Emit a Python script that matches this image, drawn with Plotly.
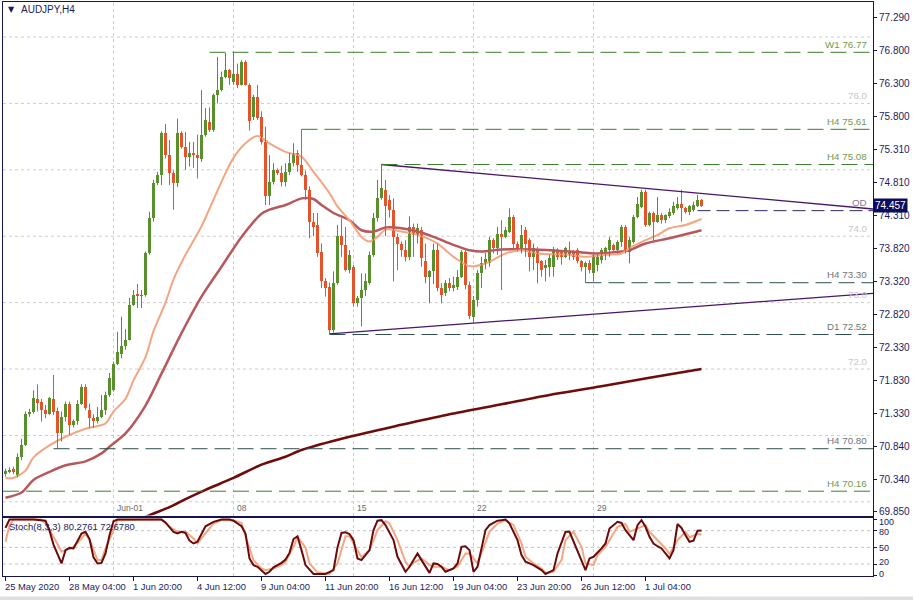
import plotly.graph_objects as go
import numpy as np

# ------------------------------------------------------------------ data
# H4 candles, bar 0 = 25 May 2020 12:00 (one bar = 4 hours, weekends skipped)
opens = [70.42,70.46,70.48,70.40,70.68,70.86,71.32,71.36,71.55,71.51,
         71.38,71.33,71.55,71.37,71.03,71.28,71.48,71.16,71.21,71.47,
         71.73,71.38,71.27,71.22,71.28,71.38,71.61,71.68,72.08,72.22,
         72.34,72.44,72.97,73.12,73.10,73.11,73.74,74.27,74.80,74.92,
         75.56,75.22,74.95,74.80,75.55,75.35,75.20,75.26,75.23,75.17,
         75.52,75.72,75.60,76.13,76.20,76.40,76.50,76.33,76.45,76.28,
         76.63,76.28,75.80,76.10,75.80,75.42,74.60,74.82,75.00,74.95,
         74.82,74.97,75.10,75.25,75.07,74.92,74.70,74.22,74.17,73.77,
         73.32,73.24,72.59,73.29,74.00,73.87,73.49,73.54,72.99,73.07,
         73.19,73.29,73.72,74.27,74.57,74.70,74.55,74.40,73.99,73.89,
         73.79,73.69,74.14,74.02,74.10,73.63,73.39,73.47,73.79,73.22,
         73.14,73.29,73.22,73.24,73.39,73.77,73.27,72.78,73.04,73.44,
         73.59,73.60,73.94,73.82,74.04,73.99,74.07,74.29,73.89,73.79,
         74.09,73.95,73.69,73.79,73.62,73.52,73.54,73.54,73.79,73.77,
         73.69,73.72,73.77,73.79,73.62,73.54,73.59,73.44,73.57,73.64,
         73.72,73.79,73.87,73.79,73.92,74.14,73.77,73.92,74.29,74.44,
         74.67,74.17,74.35,74.22,74.32,74.25,74.30,74.35,74.42,74.49,
         74.42,74.37,74.39,74.45,74.54]
highs = [70.50,70.52,70.53,70.73,70.95,71.36,71.40,71.68,71.77,71.55,
         71.46,71.58,71.91,71.42,71.36,71.51,71.51,71.24,71.53,71.77,
         71.77,71.48,71.32,71.43,71.61,71.66,71.94,72.11,72.56,72.79,
         72.60,73.07,73.19,73.28,73.19,73.77,74.37,74.85,74.97,75.58,
         75.69,75.45,74.99,75.77,75.58,75.57,75.42,75.42,75.53,76.20,
         75.93,75.94,76.15,76.70,76.48,76.76,76.52,76.78,76.60,76.65,
         76.65,76.30,76.13,76.28,75.88,75.65,75.22,75.10,75.02,75.06,
         75.10,75.25,75.40,75.30,75.61,74.99,74.75,74.35,74.35,73.89,
         73.37,73.30,73.47,74.17,74.27,74.14,73.79,73.57,73.10,73.44,
         73.44,73.77,74.35,74.85,75.08,74.85,74.62,74.57,74.04,73.92,
         73.94,74.30,74.19,74.19,74.14,73.89,73.49,73.89,73.89,73.29,
         73.34,73.37,73.39,73.49,73.79,73.82,73.32,73.10,73.49,73.69,
         73.75,73.99,73.97,74.14,74.24,74.14,74.42,74.32,73.92,74.17,
         74.14,73.97,73.89,73.84,73.64,73.64,73.72,73.84,73.82,73.79,
         73.84,73.92,73.79,73.82,73.64,73.62,73.64,73.74,73.74,73.82,
         73.84,73.99,73.89,73.94,74.17,74.17,73.99,74.32,74.59,74.70,
         74.70,74.37,74.37,74.59,74.35,74.33,74.42,74.52,74.59,74.70,
         74.44,74.47,74.52,74.62,74.56]
lows = [70.38,70.43,70.42,70.37,70.63,70.84,71.28,71.33,71.36,71.21,
        71.26,71.31,71.31,70.80,70.91,71.21,71.01,71.12,71.16,71.46,
        71.38,71.11,71.11,71.18,71.26,71.31,71.58,71.66,72.06,72.16,
        72.29,72.43,72.95,72.92,72.92,73.09,73.72,74.22,74.77,74.77,
        75.17,74.77,74.40,74.74,75.32,75.00,75.05,75.03,74.87,75.12,
        75.50,75.57,75.57,76.00,76.18,76.38,76.28,76.28,76.23,76.27,
        76.27,75.59,75.75,75.75,75.38,74.47,74.47,74.78,74.92,74.75,
        74.75,74.92,75.05,74.97,74.90,74.55,73.97,74.00,73.69,73.22,
        73.09,72.53,72.55,73.27,73.69,73.47,73.44,72.94,72.94,72.64,
        73.10,73.27,73.69,74.22,74.55,74.00,74.28,73.32,73.49,73.69,
        73.62,73.64,73.69,73.89,73.54,73.29,72.99,73.28,73.17,72.99,
        73.10,73.17,73.17,73.19,73.37,73.20,72.75,72.70,72.94,73.22,
        73.50,73.54,73.74,73.72,73.19,73.97,74.05,73.82,73.77,73.74,
        73.69,73.47,73.49,73.29,73.39,73.32,73.39,73.39,73.64,73.57,
        73.67,73.64,73.64,73.59,73.47,73.30,73.44,73.32,73.47,73.59,
        73.64,73.69,73.77,73.74,73.84,73.74,73.59,73.89,74.27,74.42,
        74.14,74.15,73.92,74.20,74.19,74.20,74.27,74.32,74.40,74.22,
        74.34,74.32,74.37,74.44,74.44]
closes = [70.47,70.48,70.45,70.68,70.86,71.33,71.36,71.56,71.49,71.38,
          71.33,71.56,71.36,71.03,71.28,71.47,71.16,71.21,71.47,71.73,
          71.41,71.26,71.22,71.28,71.38,71.61,71.86,72.08,72.26,72.34,
          72.44,72.97,73.12,73.10,73.11,73.74,74.27,74.80,74.92,75.56,
          75.22,74.95,74.80,75.55,75.35,75.20,75.25,75.23,75.18,75.52,
          75.75,75.60,76.13,76.20,76.40,76.50,76.38,76.45,76.28,76.63,
          76.28,75.74,76.10,75.78,75.42,74.60,74.82,75.00,74.95,74.82,
          74.97,75.10,75.25,75.07,74.92,74.70,74.22,74.14,73.74,73.32,
          73.22,72.59,73.29,74.00,73.87,73.49,73.72,72.99,73.07,73.19,
          73.32,73.72,74.27,74.57,74.72,74.45,74.40,73.99,73.89,73.79,
          73.69,74.14,74.02,74.12,73.67,73.39,73.47,73.79,73.22,73.12,
          73.29,73.22,73.27,73.39,73.77,73.27,72.80,73.04,73.44,73.59,
          73.65,73.94,73.82,74.04,73.99,74.09,74.29,73.89,73.79,74.02,
          73.89,73.69,73.82,73.59,73.49,73.57,73.67,73.79,73.69,73.69,
          73.82,73.77,73.69,73.62,73.54,73.59,73.49,73.72,73.69,73.79,
          73.82,73.94,73.79,73.92,74.14,73.77,73.94,74.29,74.49,74.67,
          74.17,74.35,74.22,74.32,74.25,74.32,74.37,74.45,74.49,74.42,
          74.37,74.45,74.47,74.54,74.457]

# moving averages: (bar, price)
ma_fast_points = [(0,70.36),(2,70.36),(5,70.47),(7,70.67),(11,70.85),(15,70.98),(20,71.10),
                  (22,71.13),(25,71.18),(27,71.36),(30,71.55),(32,71.83),(35,72.18),(37,72.57),
                  (40,73.00),(42,73.35),(45,73.72),(49,74.15),(52,74.55),(55,74.95),(57,75.18),
                  (60,75.40),(63,75.51),(66,75.40),(70,75.27),(74,75.20),(77,74.97),(81,74.65),
                  (83,74.45),(86,74.24),(89,73.99),(91,73.92),(93,73.99),(95,74.10),(99,74.07),
                  (103,74.02),(108,73.89),(112,73.69),(116,73.55),(120,73.59),(125,73.74),
                  (129,73.79),(133,73.74),(141,73.72),(145,73.69),(150,73.72),(154,73.74),
                  (156,73.82),(160,73.94),(163,74.02),(166,74.12),(170,74.17),(174,74.26)]
ma_mid_points = [(0,70.06),(4,70.14),(7,70.33),(11,70.45),(15,70.55),(20,70.61),(24,70.73),
                 (26,70.83),(30,71.03),(35,71.45),(39,71.93),(44,72.54),(49,73.09),(54,73.54),
                 (59,73.99),(64,74.34),(66,74.40),(70,74.47),(74,74.57),(77,74.56),(79,74.47),
                 (82,74.35),(86,74.24),(89,74.09),(92,74.07),(95,74.13),(99,74.12),(103,74.07),
                 (107,73.99),(112,73.87),(116,73.79),(119,73.77),(124,73.80),(132,73.80),
                 (141,73.77),(148,73.74),(154,73.77),(156,73.79),(160,73.89),(166,73.97),
                 (174,74.09)]
ma_slow_points = [(33,69.72),(36,69.80),(41,69.92),(45,70.04),(50,70.18),(57,70.36),(64,70.56),
                  (70,70.68),(74,70.78),(86,70.98),(99,71.16),(111,71.32),(124,71.47),
                  (136,71.61),(149,71.74),(161,71.87),(174,72.00)]

# Stochastic(8,3,3): (bar, value)
stoch_main_points = [(0,85),(1,100),(4,100),(7,100),(10,98),(11,80),(12,55),(14,21),(15,45),(16,49),
                     (17,48),(19,75),(20,78),(21,65),(22,32),(23,21),(24,22),(25,39),(26,72),(27,97),
                     (28,100),(39,100),(40,95),(42,78),(43,75),(44,78),(45,76),(46,62),(47,57),(48,60),
                     (50,88),(52,96),(54,100),(56,100),(57,98),(59,88),(60,75),(61,30),(62,18),(63,15),
                     (65,2),(66,6),(67,14),(69,22),(70,28),(71,40),(72,65),(73,70),(74,45),(75,18),
                     (77,2),(80,2),(82,9),(83,50),(84,76),(85,77),(86,74),(87,63),(88,30),(89,27),
                     (91,45),(92,81),(93,98),(94,99),(95,90),(97,63),(98,33),(100,6),(101,15),(102,27),
                     (103,39),(104,27),(106,4),(107,21),(108,20),(109,15),(110,6),(112,12),(113,21),
                     (114,51),(115,52),(116,45),(117,6),(118,15),(119,51),(120,81),(121,90),(123,98),
                     (124,99),(125,100),(126,93),(128,63),(129,36),(130,24),(132,18),(134,9),(135,2),
                     (137,9),(138,39),(140,78),(141,78),(142,60),(144,24),(145,9),(146,30),(147,33),
                     (149,48),(150,57),(151,84),(152,90),(153,96),(154,94),(155,81),(157,63),(158,90),
                     (159,99),(160,87),(161,69),(162,57),(163,52),(164,48),(166,30),(167,45),(168,92),
                     (169,85),(170,72),(171,60),(172,62),(173,80),(174,80.28)]
stoch_signal_points = [(0,60),(1,90),(2,100),(9,100),(10,93),(12,69),(14,42),(15,45),(17,51),(19,66),
                       (20,75),(21,64),(22,45),(23,27),(24,27),(25,48),(27,80),(28,99),(39,100),(41,87),
                       (43,78),(45,78),(47,66),(48,57),(50,75),(52,93),(54,99),(57,99),(59,94),(60,70),
                       (62,27),(64,12),(65,9),(67,12),(69,18),(70,24),(72,51),(73,69),(75,50),(76,21),
                       (78,5),(81,2),(83,21),(85,70),(86,70),(88,45),(89,32),(91,45),(93,81),(95,97),
                       (96,93),(98,63),(99,42),(100,24),(101,15),(102,22),(104,30),(106,18),(107,15),
                       (109,15),(111,9),(113,15),(115,39),(116,39),(118,21),(120,57),(121,78),(123,93),
                       (125,99),(127,90),(129,57),(130,33),(132,21),(134,12),(135,4),(137,6),(139,27),
                       (140,63),(142,78),(144,51),(145,21),(147,18),(148,36),(150,51),(152,75),(153,87),
                       (155,92),(156,78),(158,84),(160,90),(161,78),(163,63),(165,48),(166,38),(168,63),
                       (170,78),(171,68),(173,75),(174,72.68)]

price_ticks = [77.290,76.800,76.300,75.800,75.310,74.810,74.310,73.820,
               73.320,72.820,72.330,71.830,71.330,70.840,70.340,69.850]
time_tick_bars = [0,16,32,48,64,80,96,112,128,144,160]
time_tick_labels = ["25 May 2020","28 May 04:00","1 Jun 20:00","4 Jun 12:00","9 Jun 04:00",
                    "11 Jun 20:00","16 Jun 12:00","19 Jun 04:00","23 Jun 20:00","26 Jun 12:00",
                    "1 Jul 04:00"]
week_bars = [27,57,87,117,147]
week_labels = ["Jun-01","08","15","22","29"]
grid_levels = [70,71,72,73,74,75,76,77]
grid_label_levels = [76,74,73,72]
grid_label_texts = ["76.0","74.0","73.0","72.0"]

level_names = ["W1 76.77","H4 75.61","H4 75.08","H4 73.30","D1 72.52","H4 70.80","H4 70.16"]
level_values = [76.77,75.61,75.08,73.30,72.52,70.80,70.16]
level_start_bars = [51,74,94,145,81,12,-1]
level_kinds = ["g","g","g","d","d","d","g"]

trend_upper = [(94,75.08),(216.875,74.41)]
trend_lower = [(81,72.53),(216.875,73.14)]
od_value = 74.385
od_start_bar = 173
last_price = 74.457
stoch_levels = [80,50,20]
stoch_axis_labels = ["100","80","50","20","0"]
stoch_label_text = "Stoch(8,3,3) 80.2761 72.6780"

# ------------------------------------------------------------------ geometry
W, H = 913, 600
L, R, T, B = 3, 873, 2, 576
plot_h = B - T
def py2paper(py):
    return (B - py) / plot_h
def px2paper(px):
    return (px - L) / (R - L)
def price_at(py):
    return 76.77 - (py - 52.3) / 66.4
def stoch_at(py):
    return (575.1 - py) / 0.555
def bar_at(px):
    return (px - 5.5) / 4.0

x_range = [bar_at(L), bar_at(R)]
main_dom = [py2paper(515.5), 1.0]
stoch_dom = [0.0, py2paper(517.5)]
main_range = [price_at(515.5), price_at(T)]
stoch_range = [stoch_at(B), stoch_at(517.5)]

NAVY = "#15154d"
TXT = "#1c1c5c"
UP = "#5a8f2e"
DN = "#e4532a"
GREEN_LINE = "#3b7d2a"
DARK_LINE = "#2f4f4f"
FONT = "Liberation Sans"

o = np.array(opens); h = np.array(highs); l = np.array(lows); c = np.array(closes)
idx = np.arange(len(o))
up = c >= o
dn = ~up

fig = go.Figure()

def body_trace(mask, color):
    diff = c[mask] - o[mask]
    diff = np.where(np.abs(diff) < 0.008, 0.008, diff)
    return go.Bar(x=idx[mask], y=diff, base=o[mask], width=0.75,
                  marker=dict(color=color, line=dict(width=0)),
                  xaxis="x", yaxis="y", hoverinfo="skip", showlegend=False)

def wick_trace(mask, color):
    xs, ys = [], []
    for k in idx[mask]:
        xs += [k, k, None]
        ys += [l[k], h[k], None]
    return go.Scatter(x=xs, y=ys, mode="lines", line=dict(color=color, width=1),
                      xaxis="x", yaxis="y", hoverinfo="skip", showlegend=False)

def line_from(points, color, width, axis_y="y", shape="linear"):
    xs = [p[0] for p in points]
    ys = [p[1] for p in points]
    return go.Scatter(x=xs, y=ys, mode="lines",
                      line=dict(color=color, width=width, shape=shape,
                                smoothing=0.8 if shape == "spline" else None),
                      xaxis="x" if axis_y == "y" else "x2", yaxis=axis_y,
                      hoverinfo="skip", showlegend=False)

# moving averages (under candles)
fig.add_trace(line_from(ma_slow_points, "#6e0c0c", 2.6, shape="spline"))
fig.add_trace(line_from(ma_mid_points, "#b8585c", 2.5, shape="spline"))
fig.add_trace(line_from(ma_fast_points, "#f4a582", 2, shape="spline"))

fig.add_trace(wick_trace(up, UP))
fig.add_trace(wick_trace(dn, DN))
fig.add_trace(body_trace(up, UP))
fig.add_trace(body_trace(dn, DN))

# trend lines
for tl in (trend_upper, trend_lower):
    fig.add_trace(line_from(tl, "#46166a", 1.3))

# stochastic
fig.add_trace(line_from(stoch_signal_points, "#f4a582", 2, axis_y="y2"))
fig.add_trace(line_from(stoch_main_points, "#6b0a0a", 2, axis_y="y2"))

shapes = []
# integer price grid (gray dotted)
for g in grid_levels:
    shapes.append(dict(type="line", xref="x", yref="y", x0=x_range[0], x1=x_range[1], y0=g, y1=g,
                       line=dict(color="#cdcdcd", width=1, dash="3px,3px"), layer="below"))
# week separators
for wb in week_bars:
    shapes.append(dict(type="line", xref="x", yref="paper", x0=wb, x1=wb, y0=0, y1=1,
                       line=dict(color="#cdcdcd", width=1, dash="3px,3px"), layer="below"))
# stochastic levels
for sl in stoch_levels:
    shapes.append(dict(type="line", xref="x2", yref="y2", x0=x_range[0], x1=x_range[1], y0=sl, y1=sl,
                       line=dict(color="#c4c4c4", width=1, dash="3px,3px"), layer="below"))
# support / resistance levels
for name, val, sb, kind in zip(level_names, level_values, level_start_bars, level_kinds):
    col = GREEN_LINE if kind == "g" else DARK_LINE
    shapes.append(dict(type="line", xref="x", yref="y", x0=max(sb, x_range[0]), x1=x_range[1],
                       y0=val, y1=val, line=dict(color=col, width=1, dash="16px,7px")))
# OD line
shapes.append(dict(type="line", xref="x", yref="y", x0=od_start_bar, x1=x_range[1],
                   y0=od_value, y1=od_value, line=dict(color="#2a2a66", width=1, dash="13px,6px")))
# bottom status strip
shapes.append(dict(type="rect", xref="paper", yref="paper", x0=-0.01, x1=1.06,
                   y0=py2paper(600.5), y1=py2paper(596.5), line=dict(width=0), fillcolor="#dedede"))

ann = []
# title
ann.append(dict(text="▼", xref="paper", yref="paper", x=px2paper(6), y=py2paper(10),
                xanchor="left", yanchor="middle", showarrow=False,
                font=dict(family="DejaVu Sans", size=8, color=TXT)))
ann.append(dict(text="AUDJPY,H4", xref="paper", yref="paper", x=px2paper(19), y=py2paper(10),
                xanchor="left", yanchor="middle", showarrow=False,
                font=dict(family=FONT, size=10, color=TXT)))
# level labels
for name, val, kind in zip(level_names, level_values, level_kinds):
    col = "#6f9a4f" if kind == "g" else "#6e7676"
    ann.append(dict(text=name, xref="paper", yref="y", x=1, y=val, xanchor="right",
                    yanchor="middle", xshift=-4, yshift=8, showarrow=False,
                    font=dict(family=FONT, size=9.8, color=col)))
for gv, gt in zip(grid_label_levels, grid_label_texts):
    ann.append(dict(text=gt, xref="paper", yref="y", x=1, y=gv, xanchor="right",
                    yanchor="middle", xshift=-3, yshift=8, showarrow=False,
                    font=dict(family=FONT, size=9.8, color="#c8c8c8")))
ann.append(dict(text="OD", xref="paper", yref="y", x=1, y=od_value, xanchor="right",
                yanchor="middle", xshift=-4, yshift=8, showarrow=False,
                font=dict(family=FONT, size=9.8, color="#7a7a96")))
# last price box
ann.append(dict(text=f"{last_price:.3f}", xref="paper", yref="y", x=1, y=last_price,
                xanchor="left", yanchor="middle", xshift=0, showarrow=False,
                bgcolor="#0c0c5c", borderpad=1,
                font=dict(family=FONT, size=10, color="white")))
# week separator labels
for wb, wl in zip(week_bars, week_labels):
    ann.append(dict(text=wl, xref="x", yref="paper", x=wb, y=py2paper(508), xanchor="left",
                    yanchor="middle", xshift=1, showarrow=False,
                    font=dict(family=FONT, size=8.5, color="#6a6a6a")))
# time axis labels
for tb, tl in zip(time_tick_bars, time_tick_labels):
    ann.append(dict(text=tl, xref="x2", yref="paper", x=tb, y=py2paper(586), xanchor="left",
                    yanchor="middle", xshift=-3, showarrow=False,
                    font=dict(family=FONT, size=9.4, color=TXT)))
# stochastic caption + axis labels
ann.append(dict(text=stoch_label_text, xref="paper", yref="paper", x=px2paper(7), y=py2paper(526),
                xanchor="left", yanchor="middle", showarrow=False,
                font=dict(family=FONT, size=9.5, color=TXT)))
for lab, pyv in zip(stoch_axis_labels, [522, 532, 548, 562, 574]):
    ann.append(dict(text=lab, xref="paper", yref="paper", x=1, y=py2paper(pyv), xanchor="left",
                    yanchor="middle", xshift=4, showarrow=False,
                    font=dict(family=FONT, size=9, color=TXT)))

axis_common = dict(showgrid=False, zeroline=False, showline=True, mirror=True,
                   linecolor=NAVY, linewidth=1)

fig.update_layout(
    width=W, height=H,
    margin=dict(l=L, r=W - R, t=T, b=H - B, pad=0),
    paper_bgcolor="white", plot_bgcolor="white",
    barmode="overlay", bargap=0, showlegend=False,
    shapes=shapes, annotations=ann,
    xaxis=dict(domain=[0, 1], range=x_range, anchor="y", showticklabels=False, ticks="",
               **axis_common),
    yaxis=dict(domain=main_dom, range=main_range, side="right", anchor="x",
               tickvals=price_ticks, ticktext=[f"{v:.3f}" for v in price_ticks],
               ticks="outside", ticklen=3, tickcolor=NAVY,
               tickfont=dict(family=FONT, size=10, color=TXT), **axis_common),
    xaxis2=dict(domain=[0, 1], range=x_range, anchor="y2", matches="x",
                tickvals=time_tick_bars, ticks="outside", ticklen=4, tickcolor=NAVY,
                showticklabels=False, **axis_common),
    yaxis2=dict(domain=stoch_dom, range=stoch_range, side="right", anchor="x2",
                tickvals=[0, 20, 50, 80, 100], ticks="outside", ticklen=3, tickcolor=NAVY,
                showticklabels=False, **axis_common),
    hovermode=False,
)

fig.write_html("out.html")
